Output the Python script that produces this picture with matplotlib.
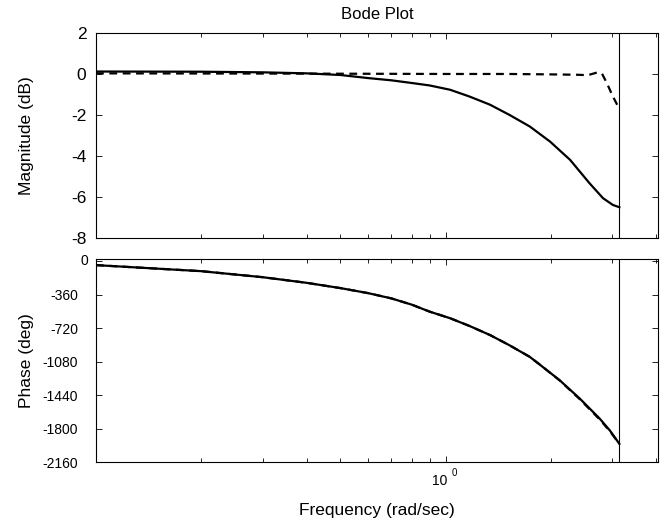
import matplotlib
matplotlib.use("Agg")
import matplotlib.pyplot as plt
import numpy as np

plt.rcParams["font.family"] = ["Liberation Sans", "DejaVu Sans"]
plt.rcParams["axes.unicode_minus"] = False

# frequency samples (rad/sec)
freq = [0.1, 0.2, 0.3, 0.4, 0.5, 0.6, 0.7, 0.8, 0.9, 1.03, 1.17, 1.34, 1.52,
        1.74, 1.99, 2.27, 2.58, 2.82, 3.01, 3.14]
mag_solid = [0.12, 0.11, 0.08, 0.03, -0.05, -0.2, -0.31, -0.44, -0.56, -0.77,
             -1.10, -1.50, -1.99, -2.56, -3.30, -4.19, -5.33, -6.06, -6.39, -6.50]

freq_dash = [0.1, 0.3, 0.6, 1.0, 1.5, 2.0, 2.4, 2.55, 2.71, 2.8, 2.89, 3.01, 3.14]
mag_dash = [0.03, 0.02, 0.01, 0.0, 0.0, -0.02, -0.04, -0.06, 0.07, 0.02, -0.44, -1.10, -1.71]

phase_freq = [0.1, 0.2, 0.3, 0.4, 0.5, 0.6, 0.7, 0.8, 0.9, 1.03, 1.17, 1.34,
              1.52, 1.74, 1.86, 2.12, 2.42, 2.76, 2.95, 3.14]
phase_solid = [-40, -105, -170, -230, -287, -341, -398, -465, -540, -611, -694,
               -792, -900, -1026, -1110, -1278, -1475, -1691, -1818, -1961]
phase_dash = [-40, -105, -170, -230, -287, -341, -398, -465, -540, -611, -694,
              -792, -900, -1026, -1110, -1280, -1482, -1700, -1826, -1961]

nyquist = np.pi

fig = plt.figure(figsize=(6.67, 5.25), dpi=100)
ax1 = fig.add_axes([0.144, 0.5467, 0.8425, 0.3905])
ax2 = fig.add_axes([0.144, 0.1194, 0.8425, 0.388])

ax1.plot(freq, mag_solid, color="black", linewidth=1.6)
ax1.plot(freq_dash, mag_dash, color="black", linewidth=1.6, linestyle=(0, (3.5, 2.5)))
ax2.plot(phase_freq, phase_solid, color="black", linewidth=1.6)
ax2.plot(phase_freq, phase_dash, color="black", linewidth=1.6, linestyle=(0, (3.5, 2.5)))

for ax in (ax1, ax2):
    ax.set_xscale("log")
    ax.set_xlim(0.1, 4.05)
    ax.axvline(nyquist, color="black", linewidth=0.8)
    ax.tick_params(which="both", direction="in", top=True, right=True,
                   width=0.6, color="black")
    ax.tick_params(which="major", length=4)
    ax.tick_params(which="minor", length=3)
    ax.xaxis.set_minor_formatter(plt.NullFormatter())
    for s in ax.spines.values():
        s.set_linewidth(0.8)

# magnitude panel
ax1.set_ylim(-8, 2)
ax1.set_yticks(np.arange(-8, 3, 2))
ax1.tick_params(axis="y", labelsize=12.5, pad=7)
ax1.xaxis.set_major_formatter(plt.NullFormatter())
ax1.set_ylabel("Magnitude (dB)", fontsize=12.5)
ax1.yaxis.set_label_coords(-0.11, 0.5)
ax1.set_title("Bode Plot", fontsize=12, pad=10)

# phase panel
ax2.set_ylim(-2160, 30)
ptick = np.arange(-2160, 1, 360)
ax2.set_yticks(ptick)
ax2.set_yticklabels([str(v) if v != 0 else "" for v in ptick])
ax2.tick_params(axis="y", labelsize=10, pad=13)
ax2.text(-8 / 562, 0, "0", fontsize=10, ha="right", va="center",
         transform=ax2.get_yaxis_transform())
ax2.set_xticks([1])
ax2.set_xticklabels([""])
ax2.annotate("10", xy=(1, 0), xycoords=("data", "axes fraction"),
             xytext=(-6, -19), textcoords="offset pixels",
             ha="center", va="center", fontsize=10)
ax2.annotate("0", xy=(1, 0), xycoords=("data", "axes fraction"),
             xytext=(9, -11), textcoords="offset pixels",
             ha="center", va="center", fontsize=7)
ax2.set_ylabel("Phase (deg)", fontsize=12.5)
ax2.yaxis.set_label_coords(-0.11, 0.5)
ax2.set_xlabel("Frequency (rad/sec)", fontsize=12.5)
ax2.xaxis.set_label_coords(0.5, -0.2)

fig.savefig("out.png", dpi=100)
